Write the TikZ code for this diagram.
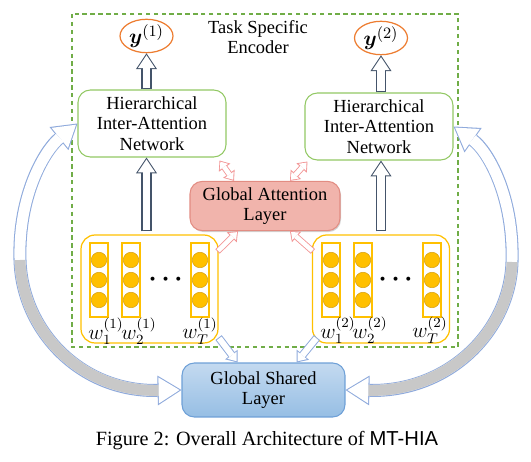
\documentclass[tikz,border=0pt]{standalone}
\usepackage{amsmath}
\usepackage{bm}
\usepackage{fontspec}
\setmainfont{Liberation Serif}
\newfontfamily\capsans{Liberation Sans}
\usepackage{tikz}
\usetikzlibrary{positioning}
\usetikzlibrary{calc}
\usetikzlibrary{arrows.meta}
\usetikzlibrary{shadows}
\usetikzlibrary{shapes.geometric}

\definecolor{encgreen}{RGB}{112,173,71}
\definecolor{boxgreen}{RGB}{146,200,100}
\definecolor{yorange}{RGB}{237,125,49}
\definecolor{wordgold}{RGB}{255,192,0}
\definecolor{dotedge}{RGB}{214,160,20}
\definecolor{attfill}{RGB}{241,180,172}
\definecolor{attedge}{RGB}{226,140,130}
\definecolor{slate}{RGB}{68,84,106}
\definecolor{redarr}{RGB}{242,150,150}
\definecolor{bluearr}{RGB}{143,170,220}
\definecolor{sharedtop}{RGB}{196,218,240}
\definecolor{sharedbot}{RGB}{150,190,228}
\definecolor{sharededge}{RGB}{110,160,215}
\definecolor{curvegray}{RGB}{200,200,200}

\begin{document}
\begin{tikzpicture}[x=0.02cm, y=-0.02cm, font=\fontsize{10.5}{11.8}\selectfont,
    hian/.style={draw=boxgreen, line width=0.6pt, rounded corners=7pt, minimum width=2.96cm, minimum height=1.34cm, align=center},
    outnode/.style={draw=yorange, line width=0.7pt, ellipse, minimum width=1.06cm, minimum height=0.56cm, inner sep=0pt, font=\fontsize{12.5}{14}\selectfont},
    wordbox/.style={draw=wordgold, line width=0.7pt, rounded corners=8pt, minimum width=2.74cm, minimum height=2.16cm},
    wcol/.style={draw=wordgold, line width=0.6pt, minimum width=0.36cm, minimum height=1.48cm, inner sep=0pt},
    wdot/.style={circle, fill=wordgold, draw=dotedge, line width=0.3pt, minimum size=0.31cm, inner sep=0pt},
    wlab/.style={font=\fontsize{11.5}{13}\selectfont, inner sep=0pt},
    layer/.style={rounded corners=7pt, line width=0.6pt, align=center, minimum width=3cm, minimum height=0.96cm},
    % hollow block arrows (outline pass + white pass)
    vout/.style={draw=slate, line width=5.7pt, -{Triangle[length=9pt,width=12pt,line width'=0pt]}},
    vin/.style={draw=white, line width=4.5pt, shorten <=0.6pt, shorten >=1.1pt, -{Triangle[length=7.3pt,width=9.8pt,line width'=0pt]}},
    rout/.style={draw=redarr, line width=3.6pt, -{Triangle[length=5pt,width=8pt,line width'=0pt]}},
    rin/.style={draw=white, line width=2.6pt, shorten <=0.5pt, shorten >=0.8pt, -{Triangle[length=3.6pt,width=5.8pt,line width'=0pt]}},
    rrout/.style={draw=redarr, line width=3.6pt, {Triangle[length=5pt,width=8pt,line width'=0pt]}-{Triangle[length=5pt,width=8pt,line width'=0pt]}},
    rrin/.style={draw=white, line width=2.6pt, shorten <=0.8pt, shorten >=0.8pt, {Triangle[length=3.6pt,width=5.8pt,line width'=0pt]}-{Triangle[length=3.6pt,width=5.8pt,line width'=0pt]}},
    bout/.style={draw=bluearr, line width=4.5pt, -{Triangle[length=5.7pt,width=9pt,line width'=0pt]}},
    bin/.style={draw=white, line width=3.4pt, shorten <=0.55pt, shorten >=0.9pt, -{Triangle[length=4.3pt,width=6.7pt,line width'=0pt]}},
    cout/.style={draw=bluearr, line width=7.4pt, {Triangle[length=13.6pt,width=17pt,line width'=0pt]}-{Triangle[length=13.6pt,width=17pt,line width'=0pt]}},
    cin/.style={draw=white, line width=6.2pt, shorten <=1.1pt, shorten >=1.1pt, {Triangle[length=11.9pt,width=14.8pt,line width'=0pt]}-{Triangle[length=11.9pt,width=14.8pt,line width'=0pt]}},
    cgray/.style={draw=curvegray, line width=6.2pt, shorten >=13pt}]

    \useasboundingbox (0,0) rectangle (531,462);

    % Task specific encoder frame
    \draw[encgreen, line width=0.7pt, dash pattern=on 2.5pt off 2pt] (72,14) rectangle (458,347);
    \node[align=center] (enc) at (258,37) {Task Specific\\Encoder};

    % Outputs and inter-attention networks
    \node[outnode] (y1) at (146.5,36) {$\bm{y}^{(1)}$};
    \node[outnode] (y2) at (381,38) {$\bm{y}^{(2)}$};
    \node[hian] (hian1) at (152,123.5) {Hierarchical\\Inter-Attention\\Network};
    \node[hian] (hian2) at (379,126.5) {Hierarchical\\Inter-Attention\\Network};

    % Global layers
    \node[layer, draw=attedge, fill=attfill, drop shadow={opacity=0.35, shadow xshift=0.6pt, shadow yshift=-0.8pt}] (gal) at (265,206) {Global Attention\\Layer};
    \node[layer, draw=sharededge, top color=sharedtop, bottom color=sharedbot, minimum width=3.26cm, minimum height=1.08cm] (gsl) at (263.5,390) {Global Shared\\Layer};

    % Word representations
    \node[wordbox] (wb1) at (149.5,289) {};
    \node[wordbox] (wb2) at (381,289) {};
    \foreach \x [count=\i] in {99,131,200} {
        \node[wcol] (ca\i) at (\x,280) {};
        \foreach \y [count=\j] in {260,280,300}
            \node[wdot] (da\i\j) at (\x,\y) {};
    }
    \foreach \x [count=\i] in {331,363,432} {
        \node[wcol] (cb\i) at (\x,280) {};
        \foreach \y [count=\j] in {260,280,300}
            \node[wdot] (db\i\j) at (\x,\y) {};
    }
    \node[font=\fontsize{14}{16}\selectfont] (dotsa) at (168,280) {$\boldsymbol{\cdots}$};
    \node[font=\fontsize{14}{16}\selectfont] (dotsb) at (398,280) {$\boldsymbol{\cdots}$};
    \node[wlab] (wa1) at (106,331) {$w_1^{(1)}$};
    \node[wlab] (wa2) at (139,331) {$w_2^{(1)}$};
    \node[wlab] (wa3) at (200,331) {$w_T^{(1)}$};
    \node[wlab] (wb1l) at (338,330) {$w_1^{(2)}$};
    \node[wlab] (wb2l) at (370,330) {$w_2^{(2)}$};
    \node[wlab] (wb3l) at (430,330) {$w_T^{(2)}$};

    % Vertical arrows
    \draw[vout] (y1.south |- hian1.north) -- (y1.south);
    \draw[vin]  (y1.south |- hian1.north) -- (y1.south);
    \draw[vout] (y2.south |- hian2.north) -- (y2.south);
    \draw[vin]  (y2.south |- hian2.north) -- (y2.south);
    \draw[vout] ($(y1.south |- wb1.north)+(0,-3)$) -- (y1.south |- hian1.south);
    \draw[vin]  ($(y1.south |- wb1.north)+(0,-3)$) -- (y1.south |- hian1.south);
    \draw[vout] ($(y2.south |- wb2.north)+(0,-3)$) -- (y2.south |- hian2.south);
    \draw[vin]  ($(y2.south |- wb2.north)+(0,-3)$) -- (y2.south |- hian2.south);

    % Attention arrows
    \draw[rrout] ($(gal.north)+(-31,0)$) -- ($(hian1.south east)+(-7,3)$);
    \draw[rrin]  ($(gal.north)+(-31,0)$) -- ($(hian1.south east)+(-7,3)$);
    \draw[rrout] ($(gal.north)+(25,0)$) -- ($(hian2.south west)+(3,1)$);
    \draw[rrin]  ($(gal.north)+(25,0)$) -- ($(hian2.south west)+(3,1)$);
    \draw[rout] ($(wb1.north east)+(-1,17)$) -- ($(gal.south)+(-27,0)$);
    \draw[rin]  ($(wb1.north east)+(-1,17)$) -- ($(gal.south)+(-27,0)$);
    \draw[rout] ($(wb2.north west)+(1,17)$) -- ($(gal.south)+(25,0)$);
    \draw[rin]  ($(wb2.north west)+(1,17)$) -- ($(gal.south)+(25,0)$);

    % Shared arrows
    \draw[bout] ($(wb1.south east)+(0,-6)$) -- ($(gsl.north)+(-26,0)$);
    \draw[bin]  ($(wb1.south east)+(0,-6)$) -- ($(gsl.north)+(-26,0)$);
    \draw[bout] ($(wb2.south west)+(5,-6)$) -- ($(gsl.north)+(33,0)$);
    \draw[bin]  ($(wb2.south west)+(5,-6)$) -- ($(gsl.north)+(33,0)$);

    % Curved shared connections
    \draw[cout] (hian1.west) .. controls (45,150) and (18,195) .. (20,260) .. controls (22,330) and (80,392) .. (gsl.west);
    \draw[cin]  (hian1.west) .. controls (45,150) and (18,195) .. (20,260) .. controls (22,330) and (80,392) .. (gsl.west);
    \draw[cgray] (20,260) .. controls (22,330) and (80,392) .. (gsl.west);
    \draw[cout] (hian2.east) .. controls (487,150) and (514,195) .. (512,262) .. controls (510,330) and (450,392) .. (gsl.east);
    \draw[cin]  (hian2.east) .. controls (487,150) and (514,195) .. (512,262) .. controls (510,330) and (450,392) .. (gsl.east);
    \draw[cgray] (512,262) .. controls (510,330) and (450,392) .. (gsl.east);

    % Caption
    \node[font=\fontsize{11.5}{14}\selectfont] (cap) at (267,441) {Figure 2: Overall Architecture of {\capsans MT-HIA}};
\end{tikzpicture}
\end{document}
